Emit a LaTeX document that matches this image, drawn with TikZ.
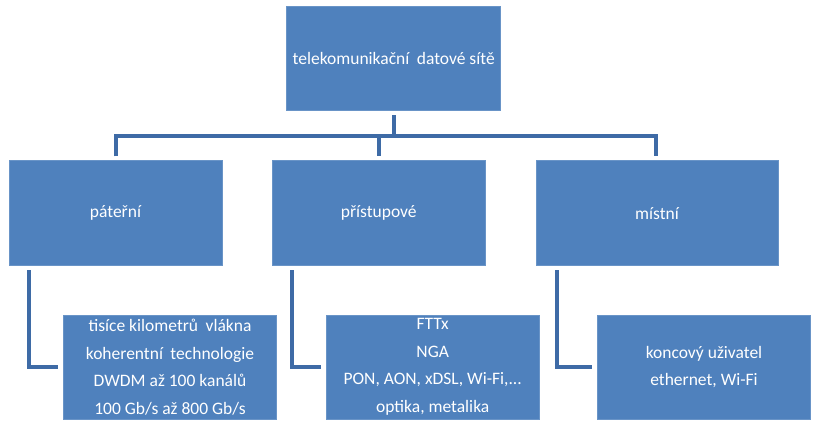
\documentclass[tikz,border=0pt]{standalone}
\usepackage{fontspec}
\setmainfont{Carlito}
\definecolor{boxblue}{HTML}{4F81BD}
\definecolor{lineblue}{HTML}{3E6BA6}
\begin{document}
\begin{tikzpicture}[x=1pt,y=-1pt,
  box/.style={rectangle, fill=boxblue, draw=boxblue!85!white, line width=0.6pt, text=white, inner sep=0pt, align=center,
    font=\fontsize{17.5}{27.5}\selectfont},
  conn/.style={draw=lineblue, line width=4pt, line join=miter}]
\useasboundingbox (0,0) rectangle (818,425);
\fill[white] (0,0) rectangle (818,425);
% top
\node[box, minimum width=214pt, minimum height=104pt] (top) at (393.7,58.7) {telekomunikační\hspace{0.2em} datové sítě};
% middle row
\node[box, minimum width=213pt, minimum height=105pt] (m1) at (115.5,213.2) {páteřní};
\node[box, minimum width=212.3pt, minimum height=105pt] (m2) at (378.8,213.2) {přístupové};
\node[box, minimum width=242.3pt, minimum height=105pt] (m3) at (657,213.2) {místní};
% bottom row
\node[box, minimum width=213.4pt, minimum height=104pt] (b1) at (170,367) {tisíce kilometrů\hspace{0.2em} vlákna\\koherentní\hspace{0.2em} technologie\\DWDM až 100 kanálů\\100 Gb/s až 800 Gb/s};
\node[box, minimum width=213.3pt, minimum height=104pt] (b2) at (432.7,367) {FTTx\\NGA\\PON, AON, xDSL, Wi-Fi,...\\optika, metalika};
\node[box, minimum width=213.4pt, minimum height=104pt] (b3) at (704,367) {koncový uživatel\\ethernet, Wi-Fi};
% connectors
\coordinate (bar) at (0,136);
\draw[conn] ([yshift=-4pt]top.south) -- (top.south |- bar);
\draw[conn] ([xshift=0.5pt,yshift=4pt]m1.north) -- ([xshift=0.5pt]m1.north |- bar) -- ([xshift=-1pt]m3.north |- bar) -- ([xshift=-1pt,yshift=4pt]m3.north);
\draw[conn] (m2.north |- bar) -- ([yshift=4pt]m2.north);
\draw[conn] ([xshift=20pt,yshift=-4pt]m1.south west) |- ([xshift=-5pt]b1.west);
\draw[conn] ([xshift=20pt,yshift=-4pt]m2.south west) |- ([xshift=-5pt]b2.west);
\draw[conn] ([xshift=21pt,yshift=-4pt]m3.south west) |- ([xshift=-5pt]b3.west);
\end{tikzpicture}
\end{document}
